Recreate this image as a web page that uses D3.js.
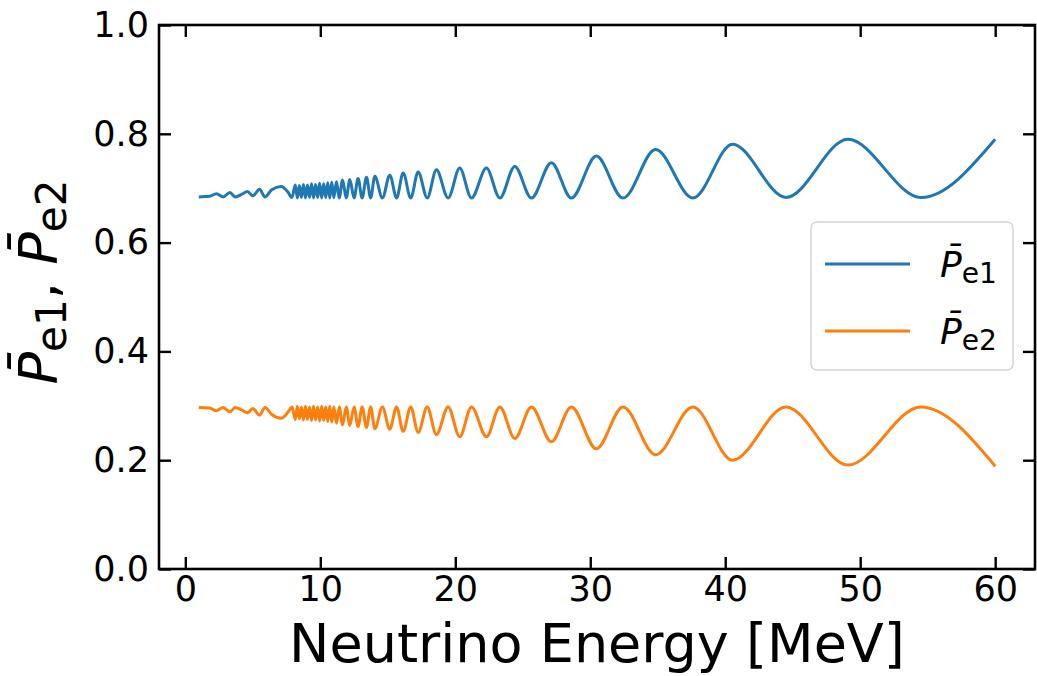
<!DOCTYPE html>
<html>
<head>
<meta charset="utf-8">
<script src="https://cdn.jsdelivr.net/npm/d3@7"></script>
<style>
  html, body { margin: 0; padding: 0; background: #fff; }
  svg text { font-family: "DejaVu Sans", sans-serif; fill: #000; }
</style>
</head>
<body>
<svg id="chart" width="1037" height="676"></svg>
<script>
// Averaged electron-flavour probabilities vs. neutrino energy (MeV).
// Each series is given by its turning points; the curve is drawn smooth through them.
const e1Energy = [1.0, 1.8, 2.3, 2.8, 3.3, 3.7, 4.2, 4.6, 5.0, 5.5, 5.9, 6.4, 7.1, 7.6, 7.9,
  8.15, 8.3, 8.45, 8.6, 8.75, 8.9, 9.05, 9.2, 9.35, 9.5, 9.65, 9.8, 9.95, 10.1, 10.25, 10.4, 10.55, 10.7, 10.85, 11.0, 11.2,
  11.4, 11.65, 11.92, 12.19, 12.5, 12.8, 13.1, 13.42, 13.73, 14.04, 14.6, 15.15, 15.65, 16.14, 16.7, 17.25, 17.92, 18.6,
  19.47, 20.33, 21.2, 22.31, 23.3, 24.41, 25.64, 27.12, 28.6, 30.45, 32.42, 34.84, 37.6, 40.54, 44.5, 49.08, 54.5, 60.0];
const e1Value = [0.684, 0.685, 0.690, 0.684, 0.692, 0.684, 0.689, 0.694, 0.686, 0.698, 0.684, 0.697, 0.703, 0.693, 0.683,
  0.706, 0.682, 0.705, 0.683, 0.707, 0.682, 0.706, 0.683, 0.708, 0.682, 0.707, 0.683, 0.709, 0.682, 0.708, 0.683, 0.710, 0.682, 0.711, 0.683, 0.712,
  0.682, 0.715, 0.682, 0.716, 0.682, 0.718, 0.682, 0.720, 0.682, 0.722, 0.682, 0.724, 0.682, 0.728, 0.682, 0.730, 0.682, 0.734,
  0.682, 0.737, 0.682, 0.737, 0.682, 0.740, 0.682, 0.747, 0.682, 0.759, 0.682, 0.771, 0.682, 0.781, 0.683, 0.790, 0.683, 0.790];

const e2Energy = e1Energy.slice();
const e2Value = [0.297, 0.296, 0.291, 0.297, 0.289, 0.297, 0.292, 0.287, 0.295, 0.283, 0.297, 0.284, 0.277, 0.288, 0.298,
  0.275, 0.299, 0.276, 0.298, 0.274, 0.299, 0.275, 0.298, 0.273, 0.299, 0.274, 0.298, 0.272, 0.299, 0.273, 0.298, 0.271, 0.299, 0.270, 0.298, 0.268,
  0.298, 0.265, 0.298, 0.264, 0.298, 0.262, 0.298, 0.260, 0.298, 0.258, 0.298, 0.257, 0.298, 0.253, 0.298, 0.251, 0.298, 0.247,
  0.298, 0.243, 0.298, 0.243, 0.298, 0.240, 0.298, 0.234, 0.298, 0.221, 0.298, 0.210, 0.298, 0.200, 0.298, 0.191, 0.298, 0.189];

const xTicks = [0, 10, 20, 30, 40, 50, 60];
const yTicks = [0.0, 0.2, 0.4, 0.6, 0.8, 1.0];
const seriesNames = ["e1", "e2"];
const seriesColors = ["#1f77b4", "#ff7f0e"];

const svg = d3.select("#chart");
const W = 1037, H = 676;
const margin = { left: 159, right: W - 1035, top: 25, bottom: H - 569 };

const x = d3.scaleLinear().domain([-1.95, 62.95]).range([margin.left, W - margin.right]);
const y = d3.scaleLinear().domain([0, 1]).range([H - margin.bottom, margin.top]);

const series = [
  { name: seriesNames[0], color: seriesColors[0], pts: e1Energy.map((e, i) => [e, e1Value[i]]) },
  { name: seriesNames[1], color: seriesColors[1], pts: e2Energy.map((e, i) => [e, e2Value[i]]) }
];

const line = d3.line().x(d => x(d[0])).y(d => y(d[1])).curve(d3.curveMonotoneX);

svg.append("g").selectAll("path").data(series).join("path")
  .attr("d", d => line(d.pts))
  .attr("fill", "none")
  .attr("stroke", d => d.color)
  .attr("stroke-width", 3)
  .attr("stroke-linejoin", "round");

// axes with inward ticks on all four sides
const tickLen = 12;
function styleAxis(g) {
  g.select(".domain").remove();
  g.selectAll(".tick line").attr("stroke", "#000").attr("stroke-width", 2.4);
  g.selectAll(".tick text").attr("font-size", 35).attr("font-family", "DejaVu Sans");
}
svg.append("g").attr("transform", `translate(0,${y(0)})`)
  .call(d3.axisBottom(x).tickValues(xTicks).tickSizeInner(-tickLen).tickSizeOuter(0).tickPadding(7).tickFormat(d3.format("d")))
  .call(styleAxis);
svg.append("g").attr("transform", `translate(0,${y(1)})`)
  .call(d3.axisTop(x).tickValues(xTicks).tickSizeInner(-tickLen).tickSizeOuter(0).tickFormat(""))
  .call(styleAxis);
svg.append("g").attr("transform", `translate(${x.range()[0]},0)`)
  .call(d3.axisLeft(y).tickValues(yTicks).tickSizeInner(-tickLen).tickSizeOuter(0).tickPadding(10).tickFormat(d3.format(".1f")))
  .call(styleAxis);
svg.append("g").attr("transform", `translate(${x.range()[1]},0)`)
  .call(d3.axisRight(y).tickValues(yTicks).tickSizeInner(-tickLen).tickSizeOuter(0).tickFormat(""))
  .call(styleAxis);

// plot frame
svg.append("rect")
  .attr("x", x.range()[0]).attr("y", y(1))
  .attr("width", x.range()[1] - x.range()[0]).attr("height", y(0) - y(1))
  .attr("fill", "none").attr("stroke", "#000").attr("stroke-width", 2.6);

// axis titles
svg.append("text")
  .attr("x", (x.range()[0] + x.range()[1]) / 2).attr("y", 662)
  .attr("text-anchor", "middle").attr("font-size", 54)
  .text("Neutrino Energy [MeV]");

function probLabel(sel, sub, size) {
  sel.append("tspan").attr("font-style", "italic").text("P\u0304");
  sel.append("tspan").attr("font-size", size * 0.78).attr("dy", size * 0.17).text(sub);
}
const ySize = 54;
const yl = svg.append("text")
  .attr("transform", `translate(57,${(y(0) + y(1)) / 2 - 15}) rotate(-90)`)
  .attr("text-anchor", "middle").attr("font-size", ySize);
probLabel(yl, "e1", ySize);
yl.append("tspan").attr("dy", -ySize * 0.17).text(", ");
probLabel(yl, "e2", ySize);

// legend
const lg = svg.append("g");
lg.append("rect").attr("x", 811).attr("y", 222).attr("width", 202).attr("height", 148)
  .attr("rx", 6).attr("fill", "#fff").attr("fill-opacity", 0.8)
  .attr("stroke", "#d5d5d5").attr("stroke-width", 1.5);
series.forEach((s, i) => {
  const ly = 264 + i * 67;
  lg.append("line").attr("x1", 825).attr("x2", 910).attr("y1", ly).attr("y2", ly)
    .attr("stroke", s.color).attr("stroke-width", 3);
  const t = lg.append("text").attr("x", 940).attr("y", ly + 13).attr("font-size", 36);
  probLabel(t, s.name, 36);
});
</script>
</body>
</html>
